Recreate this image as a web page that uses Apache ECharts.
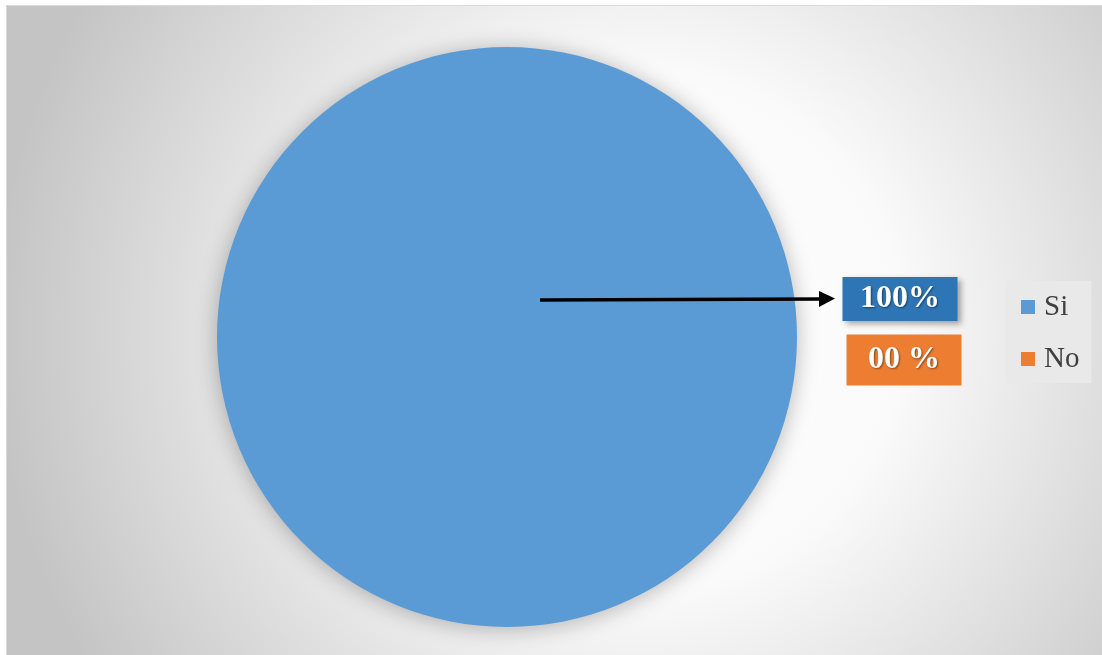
<!DOCTYPE html>
<html>
<head>
<meta charset="utf-8">
<script src="https://cdn.jsdelivr.net/npm/echarts@6/dist/echarts.min.js"></script>
<style>
  html, body { margin: 0; padding: 0; background: #ffffff; }
  #chart {
    position: absolute; left: 6px; top: 5px;
    width: 1096px; height: 650px;
    border-left: 1px solid #d9d9d9; border-top: 1px solid #d9d9d9;
  }
</style>
</head>
<body>
<div id="chart"></div>
<script>
// Survey answers and their printed shares
const categories = ['Si', 'No'];
const values = [100, 0];
const percentLabels = ['100%', '00 %'];
const sliceColors = ['#5B9BD5', '#ED7D31'];
const labelBoxColors = ['#2E75B6', '#ED7D31'];

const chart = echarts.init(document.getElementById('chart'), null, { renderer: 'canvas' });

// fixed spots for the value boxes to the right of the pie
const labelSpots = [
  { x: 893, y: 293, w: 115, h: 44 },
  { x: 897, y: 354, w: 115, h: 51 }
];

chart.setOption({
  animation: false,
  backgroundColor: {
    type: 'radial', x: 0.58, y: 0.5, r: 1.0,
    colorStops: [
      { offset: 0, color: '#ffffff' },
      { offset: 0.4, color: '#fafafa' },
      { offset: 1, color: '#c4c4c4' }
    ]
  },
  legend: {
    orient: 'vertical',
    left: 998, top: 275,
    padding: [11, 12, 9, 16],
    backgroundColor: '#e9e9e9',
    itemWidth: 14, itemHeight: 14,
    itemGap: 22,
    icon: 'rect',
    data: categories,
    selectedMode: false,
    textStyle: {
      fontFamily: 'Liberation Serif, Times New Roman, serif',
      fontSize: 29, lineHeight: 30,
      color: '#404040',
      padding: [0, 0, 0, 4]
    }
  },
  graphic: [
    {
      type: 'group',
      silent: true,
      z: 100,
      children: [
        { type: 'line', z: 100, shape: { x1: 533, y1: 294, x2: 814, y2: 293 },
          style: { stroke: '#000000', lineWidth: 3.5 } },
        { type: 'polygon', z: 100, shape: { points: [[812, 285], [828, 292.5], [812, 301]] },
          style: { fill: '#000000' } }
      ]
    }
  ],
  series: [{
    type: 'pie',
    center: [500, 331],
    radius: 290,
    startAngle: 90,
    avoidLabelOverlap: false,
    silent: true,
    data: categories.map((name, i) => ({
      name: name,
      value: values[i],
      itemStyle: { color: sliceColors[i] },
      label: {
        backgroundColor: labelBoxColors[i],
        width: labelSpots[i].w,
        height: labelSpots[i].h,
        lineHeight: labelSpots[i].h,
        shadowBlur: i === 0 ? 6 : 0,
        shadowOffsetX: i === 0 ? 3 : 0,
        shadowOffsetY: i === 0 ? 3 : 0,
        shadowColor: 'rgba(0,0,0,0.35)'
      }
    })),
    itemStyle: {
      shadowBlur: 22,
      shadowColor: 'rgba(0,0,0,0.28)',
      shadowOffsetY: 2
    },
    label: {
      show: true,
      formatter: p => percentLabels[p.dataIndex],
      fontFamily: 'Liberation Serif, Times New Roman, serif',
      fontWeight: 'bold',
      fontSize: 32,
      color: '#ffffff',
      align: 'center',
      verticalAlign: 'middle',
      padding: 0,
      textShadowColor: 'rgba(0,0,0,0.45)',
      textShadowBlur: 2,
      textShadowOffsetX: 1,
      textShadowOffsetY: 1
    },
    labelLine: { show: false },
    labelLayout: p => ({
      x: labelSpots[p.dataIndex].x,
      y: labelSpots[p.dataIndex].y,
      align: 'center',
      verticalAlign: 'middle'
    }),
    emphasis: { disabled: true }
  }]
});
</script>
</body>
</html>
